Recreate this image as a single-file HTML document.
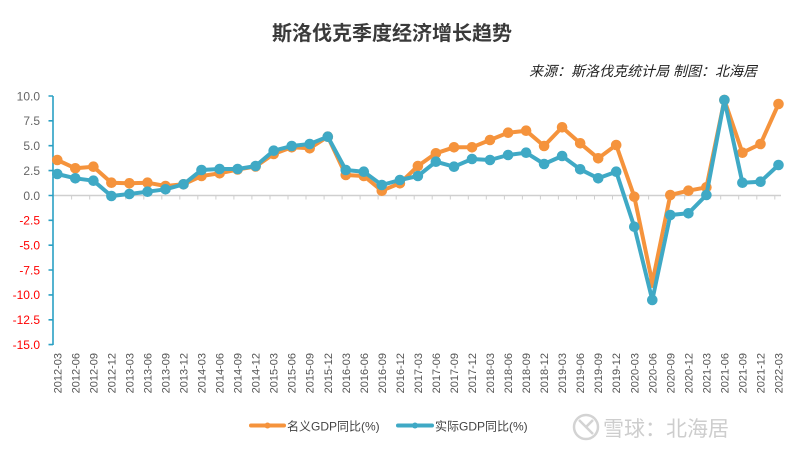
<!DOCTYPE html>
<html><head><meta charset="utf-8"><style>
html,body{margin:0;padding:0;background:#fff;}
svg{display:block;font-family:"Liberation Sans","Noto Sans CJK SC",sans-serif;}
</style></head><body>
<svg width="800" height="450" viewBox="0 0 800 450" xmlns="http://www.w3.org/2000/svg">
<rect width="800" height="450" fill="#fff"/>
<text x="272" y="40" font-size="20" font-weight="bold" fill="#3a3a3a" font-family="'Liberation Sans','Noto Sans CJK SC',sans-serif">斯洛伐克季度经济增长趋势</text>
<text x="757" y="76" font-size="14" font-style="italic" fill="#222" text-anchor="end" font-family="'Liberation Sans','Noto Sans CJK SC',sans-serif">来源：斯洛伐克统计局 制图：北海居</text>

<!-- x axis -->
<line x1="53" y1="195.5" x2="781" y2="195.5" stroke="#cfcfcf" stroke-width="1.5"/>
<g stroke="#cfcfcf" stroke-width="1">
<line x1="71.6" y1="195.5" x2="199.5" y2="199.5" transform="translate(0,0)" style="display:none"/>
<path d="M71.6 195.5v4M89.7 195.5v4M107.7 195.5v4M125.7 195.5v4M143.8 195.5v4M161.8 195.5v4M179.8 195.5v4M197.8 195.5v4M215.9 195.5v4M233.9 195.5v4M251.9 195.5v4M270 195.5v4M288 195.5v4M306 195.5v4M324.1 195.5v4M342.1 195.5v4M360.1 195.5v4M378.1 195.5v4M396.2 195.5v4M414.2 195.5v4M432.2 195.5v4M450.3 195.5v4M468.3 195.5v4M486.3 195.5v4M504.4 195.5v4M522.4 195.5v4M540.4 195.5v4M558.4 195.5v4M576.5 195.5v4M594.5 195.5v4M612.5 195.5v4M630.6 195.5v4M648.6 195.5v4M666.6 195.5v4M684.7 195.5v4M702.7 195.5v4M720.7 195.5v4M738.7 195.5v4M756.8 195.5v4M774.8 195.5v4"/>
</g>

<!-- y axis -->
<line x1="53" y1="96" x2="53" y2="345" stroke="#2aa0c4" stroke-width="1.6"/>
<path d="M48.5 96H53M48.5 120.8H53M48.5 145.7H53M48.5 170.6H53M48.5 195.5H53M48.5 220.3H53M48.5 245.2H53M48.5 270H53M48.5 294.9H53M48.5 319.8H53M48.5 344.6H53" stroke="#2aa0c4" stroke-width="1.6"/>
<g font-size="12" text-anchor="end">
<text x="40" y="100.3" fill="#666">10.0</text>
<text x="40" y="125.1" fill="#666">7.5</text>
<text x="40" y="150" fill="#666">5.0</text>
<text x="40" y="174.9" fill="#666">2.5</text>
<text x="40" y="199.8" fill="#666">0.0</text>
<text x="40" y="224.6" fill="#f00">-2.5</text>
<text x="40" y="249.5" fill="#f00">-5.0</text>
<text x="40" y="274.3" fill="#f00">-7.5</text>
<text x="40" y="299.2" fill="#f00">-10.0</text>
<text x="40" y="324.1" fill="#f00">-12.5</text>
<text x="40" y="348.9" fill="#f00">-15.0</text>
</g>

<!-- x labels -->
<g font-size="11" fill="#555" text-anchor="end">
<text transform="translate(61.3,353) rotate(-90)">2012-03</text>
<text transform="translate(79.3,353) rotate(-90)">2012-06</text>
<text transform="translate(97.4,353) rotate(-90)">2012-09</text>
<text transform="translate(115.4,353) rotate(-90)">2012-12</text>
<text transform="translate(133.4,353) rotate(-90)">2013-03</text>
<text transform="translate(151.5,353) rotate(-90)">2013-06</text>
<text transform="translate(169.5,353) rotate(-90)">2013-09</text>
<text transform="translate(187.5,353) rotate(-90)">2013-12</text>
<text transform="translate(205.5,353) rotate(-90)">2014-03</text>
<text transform="translate(223.6,353) rotate(-90)">2014-06</text>
<text transform="translate(241.6,353) rotate(-90)">2014-09</text>
<text transform="translate(259.6,353) rotate(-90)">2014-12</text>
<text transform="translate(277.7,353) rotate(-90)">2015-03</text>
<text transform="translate(295.7,353) rotate(-90)">2015-06</text>
<text transform="translate(313.7,353) rotate(-90)">2015-09</text>
<text transform="translate(331.8,353) rotate(-90)">2015-12</text>
<text transform="translate(349.8,353) rotate(-90)">2016-03</text>
<text transform="translate(367.8,353) rotate(-90)">2016-06</text>
<text transform="translate(385.8,353) rotate(-90)">2016-09</text>
<text transform="translate(403.9,353) rotate(-90)">2016-12</text>
<text transform="translate(421.9,353) rotate(-90)">2017-03</text>
<text transform="translate(439.9,353) rotate(-90)">2017-06</text>
<text transform="translate(458,353) rotate(-90)">2017-09</text>
<text transform="translate(476,353) rotate(-90)">2017-12</text>
<text transform="translate(494,353) rotate(-90)">2018-03</text>
<text transform="translate(512.1,353) rotate(-90)">2018-06</text>
<text transform="translate(530.1,353) rotate(-90)">2018-09</text>
<text transform="translate(548.1,353) rotate(-90)">2018-12</text>
<text transform="translate(566.1,353) rotate(-90)">2019-03</text>
<text transform="translate(584.2,353) rotate(-90)">2019-06</text>
<text transform="translate(602.2,353) rotate(-90)">2019-09</text>
<text transform="translate(620.2,353) rotate(-90)">2019-12</text>
<text transform="translate(638.3,353) rotate(-90)">2020-03</text>
<text transform="translate(656.3,353) rotate(-90)">2020-06</text>
<text transform="translate(674.3,353) rotate(-90)">2020-09</text>
<text transform="translate(692.4,353) rotate(-90)">2020-12</text>
<text transform="translate(710.4,353) rotate(-90)">2021-03</text>
<text transform="translate(728.4,353) rotate(-90)">2021-06</text>
<text transform="translate(746.4,353) rotate(-90)">2021-09</text>
<text transform="translate(764.5,353) rotate(-90)">2021-12</text>
<text transform="translate(782.5,353) rotate(-90)">2022-03</text>
</g>

<!-- orange series -->
<g fill="#f5933c" stroke="none">
<polyline fill="none" stroke="#f5933c" stroke-width="4" stroke-linejoin="round" points="57.3,160 75.3,168.3 93.4,166.7 111.4,182.7 129.4,183.3 147.5,182.7 165.5,186 183.5,184.3 201.5,176 219.6,173.3 237.6,169.5 255.6,166.5 273.7,154 291.7,147.3 309.7,148.3 327.8,136.7 345.8,175 363.8,176 381.8,190.7 399.9,183.3 417.9,166 435.9,153.3 454,147.3 472,147.3 490,140 508.1,132.7 526.1,130.7 544.1,146 562.1,127.3 580.2,143.3 598.2,158.3 616.2,145 634.3,196.7 652.3,282.7 670.3,195 688.4,190.7 706.4,187.3 724.4,100 742.4,152.7 760.5,144 778.5,104"/>
<circle cx="57.3" cy="160" r="5.3"/><circle cx="75.3" cy="168.3" r="5.3"/><circle cx="93.4" cy="166.7" r="5.3"/><circle cx="111.4" cy="182.7" r="5.3"/><circle cx="129.4" cy="183.3" r="5.3"/><circle cx="147.5" cy="182.7" r="5.3"/><circle cx="165.5" cy="186" r="5.3"/><circle cx="183.5" cy="184.3" r="5.3"/><circle cx="201.5" cy="176" r="5.3"/><circle cx="219.6" cy="173.3" r="5.3"/><circle cx="237.6" cy="169.5" r="5.3"/><circle cx="255.6" cy="166.5" r="5.3"/><circle cx="273.7" cy="154" r="5.3"/><circle cx="291.7" cy="147.3" r="5.3"/><circle cx="309.7" cy="148.3" r="5.3"/><circle cx="327.8" cy="136.7" r="5.3"/><circle cx="345.8" cy="175" r="5.3"/><circle cx="363.8" cy="176" r="5.3"/><circle cx="381.8" cy="190.7" r="5.3"/><circle cx="399.9" cy="183.3" r="5.3"/><circle cx="417.9" cy="166" r="5.3"/><circle cx="435.9" cy="153.3" r="5.3"/><circle cx="454" cy="147.3" r="5.3"/><circle cx="472" cy="147.3" r="5.3"/><circle cx="490" cy="140" r="5.3"/><circle cx="508.1" cy="132.7" r="5.3"/><circle cx="526.1" cy="130.7" r="5.3"/><circle cx="544.1" cy="146" r="5.3"/><circle cx="562.1" cy="127.3" r="5.3"/><circle cx="580.2" cy="143.3" r="5.3"/><circle cx="598.2" cy="158.3" r="5.3"/><circle cx="616.2" cy="145" r="5.3"/><circle cx="634.3" cy="196.7" r="5.3"/><circle cx="652.3" cy="282.7" r="5.3"/><circle cx="670.3" cy="195" r="5.3"/><circle cx="688.4" cy="190.7" r="5.3"/><circle cx="706.4" cy="187.3" r="5.3"/><circle cx="724.4" cy="100" r="5.3"/><circle cx="742.4" cy="152.7" r="5.3"/><circle cx="760.5" cy="144" r="5.3"/><circle cx="778.5" cy="104" r="5.3"/>
</g>

<!-- blue series -->
<g fill="#3fa9c5" stroke="none">
<polyline fill="none" stroke="#3fa9c5" stroke-width="4" stroke-linejoin="round" points="57.3,174 75.3,178.3 93.4,180.7 111.4,196 129.4,194 147.5,191.7 165.5,189.3 183.5,184.3 201.5,170 219.6,169 237.6,169 255.6,166 273.7,150.7 291.7,146 309.7,144 327.8,136.7 345.8,170 363.8,171.7 381.8,185 399.9,180 417.9,176 435.9,161.7 454,166.7 472,159 490,160 508.1,155 526.1,152.7 544.1,164 562.1,156 580.2,169.3 598.2,178.3 616.2,171.7 634.3,226.7 652.3,300 670.3,215 688.4,213.3 706.4,195 724.4,100 742.4,182.7 760.5,181.7 778.5,165"/>
<circle cx="57.3" cy="174" r="5.3"/><circle cx="75.3" cy="178.3" r="5.3"/><circle cx="93.4" cy="180.7" r="5.3"/><circle cx="111.4" cy="196" r="5.3"/><circle cx="129.4" cy="194" r="5.3"/><circle cx="147.5" cy="191.7" r="5.3"/><circle cx="165.5" cy="189.3" r="5.3"/><circle cx="183.5" cy="184.3" r="5.3"/><circle cx="201.5" cy="170" r="5.3"/><circle cx="219.6" cy="169" r="5.3"/><circle cx="237.6" cy="169" r="5.3"/><circle cx="255.6" cy="166" r="5.3"/><circle cx="273.7" cy="150.7" r="5.3"/><circle cx="291.7" cy="146" r="5.3"/><circle cx="309.7" cy="144" r="5.3"/><circle cx="327.8" cy="136.7" r="5.3"/><circle cx="345.8" cy="170" r="5.3"/><circle cx="363.8" cy="171.7" r="5.3"/><circle cx="381.8" cy="185" r="5.3"/><circle cx="399.9" cy="180" r="5.3"/><circle cx="417.9" cy="176" r="5.3"/><circle cx="435.9" cy="161.7" r="5.3"/><circle cx="454" cy="166.7" r="5.3"/><circle cx="472" cy="159" r="5.3"/><circle cx="490" cy="160" r="5.3"/><circle cx="508.1" cy="155" r="5.3"/><circle cx="526.1" cy="152.7" r="5.3"/><circle cx="544.1" cy="164" r="5.3"/><circle cx="562.1" cy="156" r="5.3"/><circle cx="580.2" cy="169.3" r="5.3"/><circle cx="598.2" cy="178.3" r="5.3"/><circle cx="616.2" cy="171.7" r="5.3"/><circle cx="634.3" cy="226.7" r="5.3"/><circle cx="652.3" cy="300" r="5.3"/><circle cx="670.3" cy="215" r="5.3"/><circle cx="688.4" cy="213.3" r="5.3"/><circle cx="706.4" cy="195" r="5.3"/><circle cx="724.4" cy="100" r="5.3"/><circle cx="742.4" cy="182.7" r="5.3"/><circle cx="760.5" cy="181.7" r="5.3"/><circle cx="778.5" cy="165" r="5.3"/>
</g>

<!-- legend -->
<line x1="251" y1="425.5" x2="284" y2="425.5" stroke="#f5933c" stroke-width="4" stroke-linecap="round"/>
<circle cx="267.5" cy="425.5" r="3" fill="#f5933c"/>
<text x="287" y="430.5" font-size="12" fill="#444">名义GDP同比(%)</text>
<line x1="398" y1="425.5" x2="432" y2="425.5" stroke="#3fa9c5" stroke-width="4" stroke-linecap="round"/>
<circle cx="415" cy="425.5" r="3" fill="#3fa9c5"/>
<text x="435" y="430.5" font-size="12" fill="#444">实际GDP同比(%)</text>

<!-- watermark -->
<g opacity="0.9">
<circle cx="586" cy="427" r="12" fill="none" stroke="#cfcfcf" stroke-width="2.5"/>
<path d="M579 420 L593 434 M593 420 L586 427" stroke="#cfcfcf" stroke-width="2.5" fill="none"/>
<text x="603" y="436" font-size="21" fill="#c8c8c8">雪球：北海居</text>
</g>
</svg>
</body></html>
